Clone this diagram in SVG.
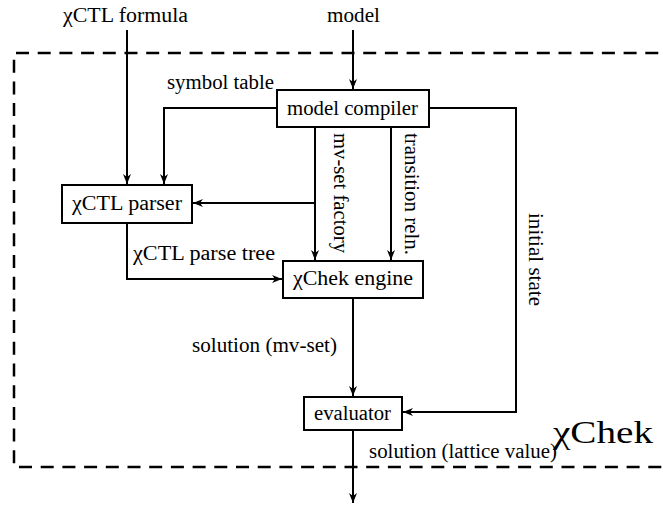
<svg xmlns="http://www.w3.org/2000/svg" width="663" height="505" viewBox="0 0 663 505">
<style>
.t{font-family:'Liberation Serif','DejaVu Serif',serif;font-size:20px;fill:#000}
.box{fill:#fff;stroke:#000;stroke-width:2}
.ln{fill:none;stroke:#000;stroke-width:2}
.dash{fill:none;stroke:#000;stroke-width:2.5;stroke-dasharray:13 8.7}
</style>
<defs>
<marker id="ah" viewBox="0 0 10 10" refX="10" refY="5" markerWidth="10" markerHeight="10" markerUnits="userSpaceOnUse" orient="auto">
<path d="M0,1 L10,5 L0,9 L3,5 Z" fill="#000"/>
</marker>
</defs>
<rect width="663" height="505" fill="#fff"/>
<path class="dash" d="M680,53 H14 V467 H680"/>
<g id="connectors">
<path class="ln" d="M127,30 V184" marker-end="url(#ah)"/>
<path class="ln" d="M353,30 V89" marker-end="url(#ah)"/>
<path class="ln" d="M277,108 H164 V184" marker-end="url(#ah)"/>
<path class="ln" d="M315,127 V260" marker-end="url(#ah)"/>
<path class="ln" d="M315,203 H193" marker-end="url(#ah)"/>
<path class="ln" d="M391,127 V260" marker-end="url(#ah)"/>
<path class="ln" d="M127,223 V279 H282" marker-end="url(#ah)"/>
<path class="ln" d="M429,108 H516 V412 H403" marker-end="url(#ah)"/>
<path class="ln" d="M353,298 V396" marker-end="url(#ah)"/>
<path class="ln" d="M353,430 V503" marker-end="url(#ah)"/>
</g>
<g id="labels" class="t" font-family="Liberation Serif, serif" lengthAdjust="spacingAndGlyphs">
<text x="63" y="22" textLength="125" lengthAdjust="spacingAndGlyphs">χCTL formula</text>
<text x="327" y="22" textLength="53" lengthAdjust="spacingAndGlyphs">model</text>
<text x="167" y="89" textLength="107" lengthAdjust="spacingAndGlyphs">symbol table</text>
<text x="133" y="260" textLength="142" lengthAdjust="spacingAndGlyphs">χCTL parse tree</text>
<text x="192" y="352" textLength="145" lengthAdjust="spacingAndGlyphs">solution (mv-set)</text>
<text x="369" y="458" textLength="188" lengthAdjust="spacingAndGlyphs">solution (lattice value)</text>
<text transform="translate(334,133) rotate(90)" textLength="120" lengthAdjust="spacingAndGlyphs">mv-set factory</text>
<text transform="translate(405,133) rotate(90)" textLength="122" lengthAdjust="spacingAndGlyphs">transition reln.</text>
<text transform="translate(529,213) rotate(90)" textLength="93" lengthAdjust="spacingAndGlyphs">initial state</text>
<text x="553" y="443" style="font-size:31px" textLength="100" lengthAdjust="spacingAndGlyphs">χChek</text>
</g>
<g id="model-compiler" class="t" font-family="Liberation Serif, serif">
<rect class="box" x="277" y="90" width="152" height="37"/>
<text x="287" y="115" textLength="131" lengthAdjust="spacingAndGlyphs">model compiler</text>
</g>
<g id="ctl-parser" class="t" font-family="Liberation Serif, serif">
<rect class="box" x="62" y="185" width="130" height="38"/>
<text x="72" y="210" textLength="110" lengthAdjust="spacingAndGlyphs">χCTL parser</text>
</g>
<g id="chek-engine" class="t" font-family="Liberation Serif, serif">
<rect class="box" x="283" y="261" width="140" height="37"/>
<text x="293" y="285" textLength="120" lengthAdjust="spacingAndGlyphs">χChek engine</text>
</g>
<g id="evaluator" class="t" font-family="Liberation Serif, serif">
<rect class="box" x="304" y="397" width="98" height="33"/>
<text x="314" y="420" textLength="77" lengthAdjust="spacingAndGlyphs">evaluator</text>
</g>
</svg>
